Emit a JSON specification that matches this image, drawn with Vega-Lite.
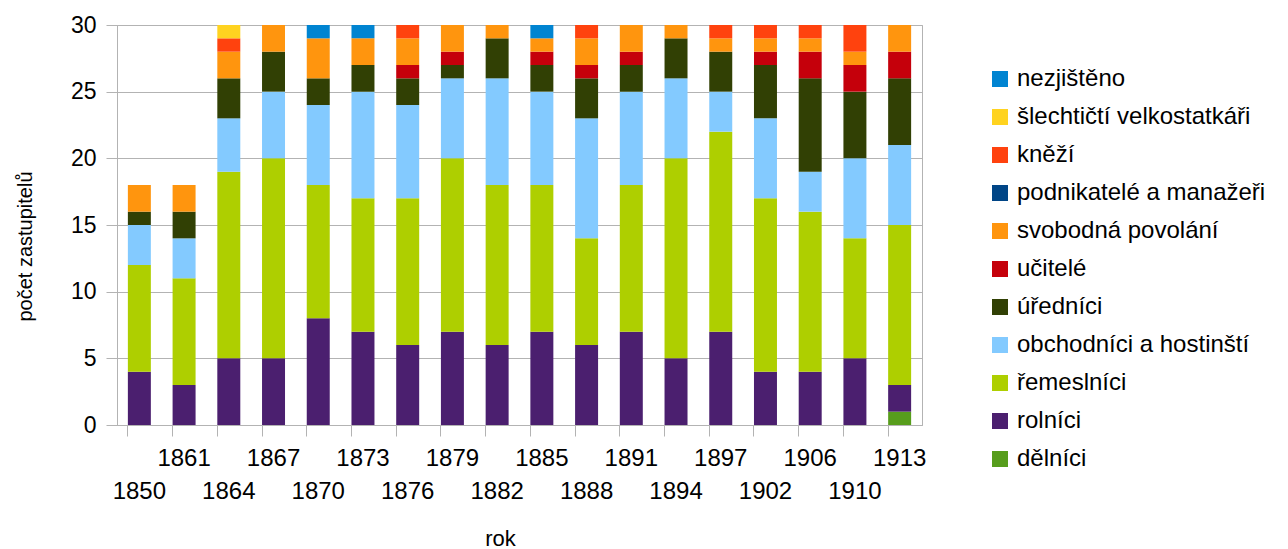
{
  "$schema": "https://vega.github.io/schema/vega-lite/v6.json",
  "width": 805,
  "height": 400,
  "autosize": {"type": "none"},
  "padding": {"left": 117, "top": 25, "right": 366, "bottom": 124},
  "background": "white",
  "config": {"font": "Liberation Sans", "view": {"stroke": "#b3b3b3", "strokeWidth": 1}},
  "data": {"values": [
    {"r": "1850", "k": "rolníci", "n": 4}, {"r": "1850", "k": "řemeslníci", "n": 8}, {"r": "1850", "k": "obchodníci a hostinští", "n": 3}, {"r": "1850", "k": "úředníci", "n": 1}, {"r": "1850", "k": "svobodná povolání", "n": 2},
    {"r": "1861", "k": "rolníci", "n": 3}, {"r": "1861", "k": "řemeslníci", "n": 8}, {"r": "1861", "k": "obchodníci a hostinští", "n": 3}, {"r": "1861", "k": "úředníci", "n": 2}, {"r": "1861", "k": "svobodná povolání", "n": 2},
    {"r": "1864", "k": "rolníci", "n": 5}, {"r": "1864", "k": "řemeslníci", "n": 14}, {"r": "1864", "k": "obchodníci a hostinští", "n": 4}, {"r": "1864", "k": "úředníci", "n": 3}, {"r": "1864", "k": "svobodná povolání", "n": 2}, {"r": "1864", "k": "kněží", "n": 1}, {"r": "1864", "k": "šlechtičtí velkostatkáři", "n": 1},
    {"r": "1867", "k": "rolníci", "n": 5}, {"r": "1867", "k": "řemeslníci", "n": 15}, {"r": "1867", "k": "obchodníci a hostinští", "n": 5}, {"r": "1867", "k": "úředníci", "n": 3}, {"r": "1867", "k": "svobodná povolání", "n": 2},
    {"r": "1870", "k": "rolníci", "n": 8}, {"r": "1870", "k": "řemeslníci", "n": 10}, {"r": "1870", "k": "obchodníci a hostinští", "n": 6}, {"r": "1870", "k": "úředníci", "n": 2}, {"r": "1870", "k": "svobodná povolání", "n": 3}, {"r": "1870", "k": "nezjištěno", "n": 1},
    {"r": "1873", "k": "rolníci", "n": 7}, {"r": "1873", "k": "řemeslníci", "n": 10}, {"r": "1873", "k": "obchodníci a hostinští", "n": 8}, {"r": "1873", "k": "úředníci", "n": 2}, {"r": "1873", "k": "svobodná povolání", "n": 2}, {"r": "1873", "k": "nezjištěno", "n": 1},
    {"r": "1876", "k": "rolníci", "n": 6}, {"r": "1876", "k": "řemeslníci", "n": 11}, {"r": "1876", "k": "obchodníci a hostinští", "n": 7}, {"r": "1876", "k": "úředníci", "n": 2}, {"r": "1876", "k": "učitelé", "n": 1}, {"r": "1876", "k": "svobodná povolání", "n": 2}, {"r": "1876", "k": "kněží", "n": 1},
    {"r": "1879", "k": "rolníci", "n": 7}, {"r": "1879", "k": "řemeslníci", "n": 13}, {"r": "1879", "k": "obchodníci a hostinští", "n": 6}, {"r": "1879", "k": "úředníci", "n": 1}, {"r": "1879", "k": "učitelé", "n": 1}, {"r": "1879", "k": "svobodná povolání", "n": 2},
    {"r": "1882", "k": "rolníci", "n": 6}, {"r": "1882", "k": "řemeslníci", "n": 12}, {"r": "1882", "k": "obchodníci a hostinští", "n": 8}, {"r": "1882", "k": "úředníci", "n": 3}, {"r": "1882", "k": "svobodná povolání", "n": 1},
    {"r": "1885", "k": "rolníci", "n": 7}, {"r": "1885", "k": "řemeslníci", "n": 11}, {"r": "1885", "k": "obchodníci a hostinští", "n": 7}, {"r": "1885", "k": "úředníci", "n": 2}, {"r": "1885", "k": "učitelé", "n": 1}, {"r": "1885", "k": "svobodná povolání", "n": 1}, {"r": "1885", "k": "nezjištěno", "n": 1},
    {"r": "1888", "k": "rolníci", "n": 6}, {"r": "1888", "k": "řemeslníci", "n": 8}, {"r": "1888", "k": "obchodníci a hostinští", "n": 9}, {"r": "1888", "k": "úředníci", "n": 3}, {"r": "1888", "k": "učitelé", "n": 1}, {"r": "1888", "k": "svobodná povolání", "n": 2}, {"r": "1888", "k": "kněží", "n": 1},
    {"r": "1891", "k": "rolníci", "n": 7}, {"r": "1891", "k": "řemeslníci", "n": 11}, {"r": "1891", "k": "obchodníci a hostinští", "n": 7}, {"r": "1891", "k": "úředníci", "n": 2}, {"r": "1891", "k": "učitelé", "n": 1}, {"r": "1891", "k": "svobodná povolání", "n": 2},
    {"r": "1894", "k": "rolníci", "n": 5}, {"r": "1894", "k": "řemeslníci", "n": 15}, {"r": "1894", "k": "obchodníci a hostinští", "n": 6}, {"r": "1894", "k": "úředníci", "n": 3}, {"r": "1894", "k": "svobodná povolání", "n": 1},
    {"r": "1897", "k": "rolníci", "n": 7}, {"r": "1897", "k": "řemeslníci", "n": 15}, {"r": "1897", "k": "obchodníci a hostinští", "n": 3}, {"r": "1897", "k": "úředníci", "n": 3}, {"r": "1897", "k": "svobodná povolání", "n": 1}, {"r": "1897", "k": "kněží", "n": 1},
    {"r": "1902", "k": "rolníci", "n": 4}, {"r": "1902", "k": "řemeslníci", "n": 13}, {"r": "1902", "k": "obchodníci a hostinští", "n": 6}, {"r": "1902", "k": "úředníci", "n": 4}, {"r": "1902", "k": "učitelé", "n": 1}, {"r": "1902", "k": "svobodná povolání", "n": 1}, {"r": "1902", "k": "kněží", "n": 1},
    {"r": "1906", "k": "rolníci", "n": 4}, {"r": "1906", "k": "řemeslníci", "n": 12}, {"r": "1906", "k": "obchodníci a hostinští", "n": 3}, {"r": "1906", "k": "úředníci", "n": 7}, {"r": "1906", "k": "učitelé", "n": 2}, {"r": "1906", "k": "svobodná povolání", "n": 1}, {"r": "1906", "k": "kněží", "n": 1},
    {"r": "1910", "k": "rolníci", "n": 5}, {"r": "1910", "k": "řemeslníci", "n": 9}, {"r": "1910", "k": "obchodníci a hostinští", "n": 6}, {"r": "1910", "k": "úředníci", "n": 5}, {"r": "1910", "k": "učitelé", "n": 2}, {"r": "1910", "k": "svobodná povolání", "n": 1}, {"r": "1910", "k": "kněží", "n": 2},
    {"r": "1913", "k": "dělníci", "n": 1}, {"r": "1913", "k": "rolníci", "n": 2}, {"r": "1913", "k": "řemeslníci", "n": 12}, {"r": "1913", "k": "obchodníci a hostinští", "n": 6}, {"r": "1913", "k": "úředníci", "n": 5}, {"r": "1913", "k": "učitelé", "n": 2}, {"r": "1913", "k": "svobodná povolání", "n": 2}
  ]},
  "transform": [
    {"calculate": "indexof(['nezjištěno','šlechtičtí velkostatkáři','kněží','podnikatelé a manažeři','svobodná povolání','učitelé','úředníci','obchodníci a hostinští','řemeslníci','rolníci','dělníci'], datum.k)", "as": "o"}
  ],
  "mark": {"type": "bar"},
  "encoding": {
    "x": {
      "field": "r", "type": "nominal", "sort": null, "title": "rok",
      "scale": {"paddingInner": 0.486, "paddingOuter": 0.243},
      "axis": {
        "bandPosition": 0, "labelAngle": 0, "labelOverlap": false, "labelFontSize": 24, "labelColor": "black",
        "labelPadding": 10, "tickSize": 11, "tickColor": "#b3b3b3", "domainColor": "#b3b3b3", "grid": false,
        "labelBaseline": "top", "labelLineHeight": 33,
        "labelExpr": "indexof(['1850','1864','1870','1876','1882','1888','1894','1902','1910'], datum.value) >= 0 ? [' ', datum.label] : datum.label",
        "titleFontSize": 22, "titleFontWeight": "normal", "titleColor": "black",
        "titleX": 383, "titleY": 120, "titleBaseline": "alphabetic", "titleAlign": "center"
      }
    },
    "y": {
      "field": "n", "type": "quantitative", "stack": "zero", "title": "počet zastupitelů",
      "scale": {"domain": [0, 30], "nice": false},
      "axis": {
        "values": [0, 5, 10, 15, 20, 25, 30], "labelFontSize": 23, "labelColor": "black", "labelPadding": 10,
        "tickSize": 11, "tickColor": "#b3b3b3", "domainColor": "#b3b3b3", "gridColor": "#b3b3b3",
        "titleFontSize": 20, "titleFontWeight": "normal", "titleColor": "black", "titlePadding": 35, "titleY": 221
      }
    },
    "color": {
      "field": "k", "type": "nominal",
      "scale": {
        "domain": ["nezjištěno", "šlechtičtí velkostatkáři", "kněží", "podnikatelé a manažeři", "svobodná povolání", "učitelé", "úředníci", "obchodníci a hostinští", "řemeslníci", "rolníci", "dělníci"],
        "range": ["#0084d1", "#ffd320", "#ff420e", "#004586", "#ff950e", "#c5000b", "#314004", "#83caff", "#aecf00", "#4b1f6f", "#579d1c"]
      },
      "legend": {
        "title": null, "orient": "none", "legendX": 871, "legendY": 42, "padding": 0,
        "symbolType": "square", "symbolSize": 256, "symbolStrokeWidth": 0, "symbolOpacity": 1,
        "labelFontSize": 24, "labelColor": "black", "labelOffset": 5, "rowPadding": 14, "labelLimit": 400
      }
    },
    "order": {"field": "o", "sort": "descending"}
  }
}
